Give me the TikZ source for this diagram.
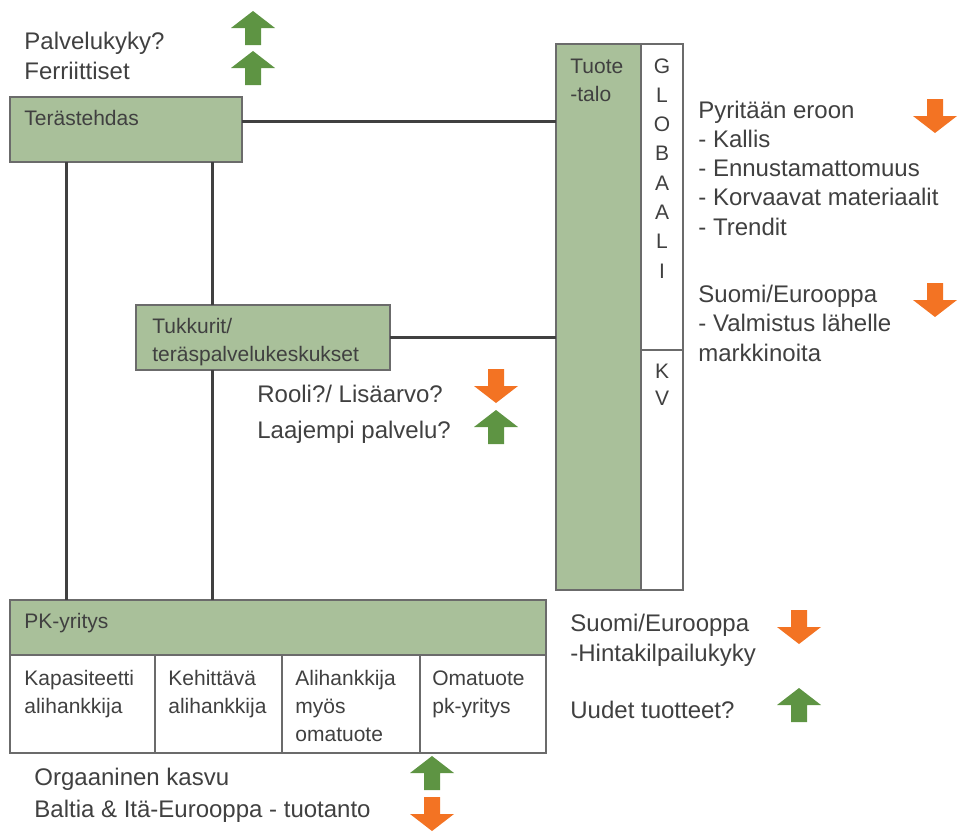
\documentclass[tikz,border=0pt]{standalone}
\usepackage{fontspec}
\setmainfont{Liberation Sans}
\usetikzlibrary{positioning}

\definecolor{boxgreen}{HTML}{A9C09A}
\definecolor{upgreen}{HTML}{5E9443}
\definecolor{downorange}{HTML}{F37323}
\definecolor{txtgray}{HTML}{404040}
\definecolor{edgegray}{HTML}{6B6B6B}

\tikzset{
  box/.style={draw=edgegray, line width=0.7pt, fill=boxgreen, inner sep=0, outer sep=0, anchor=north west},
  cell/.style={draw=edgegray, line width=0.7pt, fill=white, inner sep=0, outer sep=0, anchor=north west},
  btxt/.style={text=txtgray, font=\fontsize{10.5}{14}\selectfont, inner sep=0, anchor=base west, align=left},
  txt/.style={text=txtgray, font=\fontsize{12}{14.6}\selectfont, inner sep=0, anchor=base west, align=left},
  link/.style={draw=txtgray, line width=1.5pt},
  uparr/.pic={\fill[upgreen] (0,-17) -- (22,0) -- (8,0) -- (8,17) -- (-8,17) -- (-8,0) -- (-22,0) -- cycle;},
  downarr/.pic={\fill[downorange] (0,17) -- (22,0) -- (8,0) -- (8,-17) -- (-8,-17) -- (-8,0) -- (-22,0) -- cycle;},
}

\begin{document}
\begin{tikzpicture}[x=0.5pt,y=-0.5pt]
\useasboundingbox (0,0) rectangle (957,831);

% boxes
\node (teras) [box, minimum width=116pt, minimum height=32.5pt] at (10,97) {};
\node (tukku) [box, minimum width=127pt, minimum height=32.5pt] at (136,305) {};
\node (tuote) [box, minimum width=42.5pt, minimum height=273pt] at (556,44) {};
\node (glob) [cell, minimum width=21pt, minimum height=153pt] at (641,44) {};
\node (kv) [cell, minimum width=21pt, minimum height=120pt] at (641,350) {};
\node (pk) [box, minimum width=268pt, minimum height=27.5pt] at (10,600) {};
\node (c1) [cell, minimum width=72.5pt, minimum height=49pt] at (pk.south west) {};
\node (c2) [cell, minimum width=63.5pt, minimum height=49pt, right=0pt of c1] {};
\node (c3) [cell, minimum width=69pt, minimum height=49pt, right=0pt of c2] {};
\node (c4) [cell, minimum width=63pt, minimum height=49pt, right=0pt of c3] {};

% connectors
\draw[link] ([yshift=4.25pt]teras.east) -- ([yshift=4.25pt]teras.east -| tuote.west);
\draw[link] (tukku.east) -- (tukku.east -| tuote.west);
\draw[link] ([xshift=28pt]teras.south west) -- ([xshift=28pt]teras.south west |- pk.north);
\draw[link] ([xshift=38pt]tukku.north west) -- ([xshift=38pt]tukku.north west |- teras.south);
\draw[link] ([xshift=38pt]tukku.south west) -- ([xshift=38pt]tukku.south west |- pk.north);

% box texts (base = last line)
\node (terasT) [btxt] at (24,125) {Terästehdas};
\node (tukkuT) [btxt] at (152,361) {Tukkurit/\\teräspalvelukeskukset};
\node (tuoteT) [btxt] at (570,101) {Tuote\\-talo};
\foreach \ch [count=\i from 0] in {G,L,O,B,A,A,L,I}
  \node (g\i) [btxt, anchor=base] at (662,{73+29.3*\i}) {\ch};
\node (kvK) [btxt, anchor=base] at (662,378) {K};
\node (kvV) [btxt, anchor=base] at (662,405) {V};
\node (pkT) [btxt] at (24,628) {PK-yritys};
\node (c1T) [btxt] at (24,713) {Kapasiteetti\\alihankkija};
\node (c2T) [btxt] at (168,713) {Kehittävä\\alihankkija};
\node (c3T) [btxt] at (295,741) {Alihankkija\\myös\\omatuote};
\node (c4T) [btxt] at (432,713) {Omatuote\\pk-yritys};

% side notes
\node (palv) [txt] at (24,79) {Palvelukyky?\\Ferriittiset};
\node (eroon) [txt] at (698,235) {Pyritään eroon\\- Kallis\\- Ennustamattomuus\\- Korvaavat materiaalit\\- Trendit};
\node (suomi1) [txt] at (698,361) {Suomi/Eurooppa\\- Valmistus lähelle\\markkinoita};
\node (rooli) [txt] at (257,402) {Rooli?/ Lisäarvo?};
\node (laaj) [txt] at (257,438) {Laajempi palvelu?};
\node (suomi2) [txt] at (570,661) {Suomi/Eurooppa\\-Hintakilpailukyky};
\node (uudet) [txt] at (570,718) {Uudet tuotteet?};
\node (orga) [txt] at (34,785) {Orgaaninen kasvu};
\node (balt) [txt] at (34,817) {Baltia \& Itä-Eurooppa - tuotanto};

% trend arrows
\pic at (253,28) {uparr};
\pic at (253,68) {uparr};
\pic at (935,116) {downarr};
\pic at (935,300) {downarr};
\pic at (496,386) {downarr};
\pic at (496,427) {uparr};
\pic at (799,627) {downarr};
\pic at (799,705) {uparr};
\pic at (432,773) {uparr};
\pic at (432,814) {downarr};
\end{tikzpicture}
\end{document}
